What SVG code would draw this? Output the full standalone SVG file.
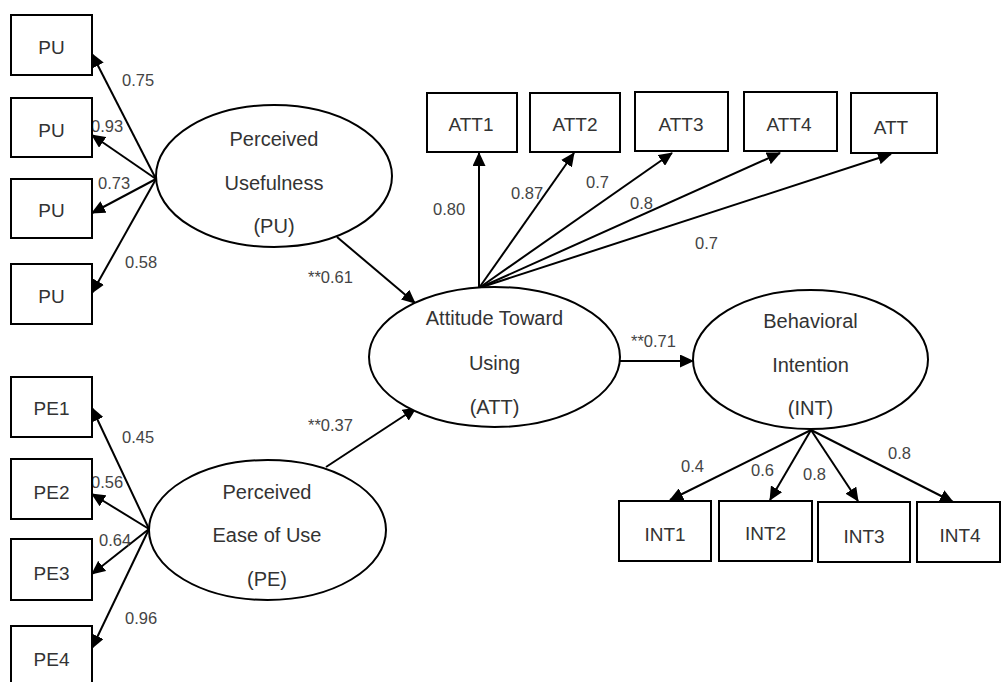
<svg xmlns="http://www.w3.org/2000/svg" width="1002" height="682" viewBox="0 0 1002 682">
<style>
.box{fill:#fff;stroke:#000;stroke-width:2}
.ell{fill:#fff;stroke:#000;stroke-width:2}
.lbl{font-family:"Liberation Sans",Arial,sans-serif;font-size:19px;fill:#333;text-anchor:middle}
.etx{font-family:"Liberation Sans",Arial,sans-serif;font-size:20px;fill:#333;text-anchor:middle}
.num{font-family:"Liberation Sans",Arial,sans-serif;font-size:16.5px;fill:#444}
.con line{stroke:#000;stroke-width:2;marker-end:url(#ah)}
</style>
<defs>
<marker id="ah" viewBox="0 0 14 13" refX="13" refY="6.5" markerWidth="14" markerHeight="13" markerUnits="userSpaceOnUse" orient="auto">
<path d="M0,0 L14,6.5 L0,13 z" fill="#000"/>
</marker>
</defs>
<rect width="1002" height="682" fill="#fff"/>

<g id="connectors" class="con">
<line x1="156" y1="179" x2="92" y2="54"/>
<line x1="156" y1="179" x2="92" y2="135"/>
<line x1="156" y1="179" x2="92" y2="213"/>
<line x1="156" y1="179" x2="92" y2="293"/>
<line x1="149" y1="529" x2="92" y2="408"/>
<line x1="149" y1="529" x2="92" y2="494"/>
<line x1="149" y1="529" x2="92" y2="574"/>
<line x1="149" y1="529" x2="92" y2="648"/>
<line x1="337" y1="237" x2="415" y2="303"/>
<line x1="326" y1="467" x2="416" y2="408"/>
<line x1="479" y1="288" x2="479" y2="153"/>
<line x1="479" y1="288" x2="574" y2="153"/>
<line x1="479" y1="288" x2="672" y2="153"/>
<line x1="479" y1="288" x2="780" y2="153"/>
<line x1="479" y1="288" x2="891" y2="154"/>
<line x1="619" y1="361" x2="693" y2="361"/>
<line x1="811" y1="430" x2="670" y2="500"/>
<line x1="811" y1="430" x2="770" y2="500"/>
<line x1="811" y1="430" x2="858" y2="501"/>
<line x1="811" y1="430" x2="953" y2="502"/>
</g>

<g id="connector-labels">
<text class="num" x="122" y="86">0.75</text>
<text class="num" x="91" y="132">0.93</text>
<text class="num" x="98" y="189">0.73</text>
<text class="num" x="125" y="268">0.58</text>
<text class="num" x="122" y="443">0.45</text>
<text class="num" x="91" y="488">0.56</text>
<text class="num" x="99" y="546">0.64</text>
<text class="num" x="125" y="624">0.96</text>
<text class="num" x="308" y="283">**0.61</text>
<text class="num" x="308" y="431">**0.37</text>
<text class="num" x="433" y="215">0.80</text>
<text class="num" x="511" y="199">0.87</text>
<text class="num" x="586" y="188">0.7</text>
<text class="num" x="630" y="209">0.8</text>
<text class="num" x="695" y="249">0.7</text>
<text class="num" x="631" y="347">**0.71</text>
<text class="num" x="681" y="472">0.4</text>
<text class="num" x="751" y="476">0.6</text>
<text class="num" x="803" y="480">0.8</text>
<text class="num" x="888" y="459">0.8</text>
</g>

<g id="PU">
<ellipse class="ell" cx="274" cy="176" rx="118" ry="71"/>
<text class="etx" x="274" y="146">Perceived</text>
<text class="etx" x="274" y="190">Usefulness</text>
<text class="etx" x="274" y="233">(PU)</text>
</g>
<g id="PE">
<ellipse class="ell" cx="267.5" cy="530" rx="118.5" ry="70"/>
<text class="etx" x="267" y="499">Perceived</text>
<text class="etx" x="267" y="542">Ease of Use</text>
<text class="etx" x="267" y="586">(PE)</text>
</g>
<g id="ATT">
<ellipse class="ell" cx="494.5" cy="357" rx="125.5" ry="70"/>
<text class="etx" x="494.5" y="325">Attitude Toward</text>
<text class="etx" x="494.5" y="370">Using</text>
<text class="etx" x="494.5" y="414">(ATT)</text>
</g>
<g id="INT">
<ellipse class="ell" cx="810.5" cy="359.5" rx="117.5" ry="69.5"/>
<text class="etx" x="810.5" y="328">Behavioral</text>
<text class="etx" x="810.5" y="372">Intention</text>
<text class="etx" x="810.5" y="415">(INT)</text>
</g>

<g id="PU1"><rect class="box" x="11" y="15" width="81" height="60"/><text class="lbl" x="51.5" y="54">PU</text></g>
<g id="PU2"><rect class="box" x="11" y="98" width="81" height="59"/><text class="lbl" x="51.5" y="137">PU</text></g>
<g id="PU3"><rect class="box" x="11" y="179" width="81" height="59"/><text class="lbl" x="51.5" y="217">PU</text></g>
<g id="PU4"><rect class="box" x="11" y="264" width="81" height="60"/><text class="lbl" x="51.5" y="303">PU</text></g>

<g id="PE1"><rect class="box" x="11" y="377" width="81" height="60"/><text class="lbl" x="51.5" y="415">PE1</text></g>
<g id="PE2"><rect class="box" x="11" y="459" width="81" height="60"/><text class="lbl" x="51.5" y="499">PE2</text></g>
<g id="PE3"><rect class="box" x="11" y="539" width="81" height="61"/><text class="lbl" x="51.5" y="580">PE3</text></g>
<g id="PE4"><rect class="box" x="11" y="626" width="81" height="62"/><text class="lbl" x="51.5" y="666">PE4</text></g>

<g id="ATT1"><rect class="box" x="427" y="93" width="90" height="59"/><text class="lbl" x="471" y="131">ATT1</text></g>
<g id="ATT2"><rect class="box" x="530" y="93" width="90" height="59"/><text class="lbl" x="575" y="131">ATT2</text></g>
<g id="ATT3"><rect class="box" x="635" y="92" width="93" height="59"/><text class="lbl" x="681" y="131">ATT3</text></g>
<g id="ATT4"><rect class="box" x="744" y="92" width="93" height="59"/><text class="lbl" x="789" y="131">ATT4</text></g>
<g id="ATT5"><rect class="box" x="851" y="93" width="86" height="60"/><text class="lbl" x="891" y="134">ATT</text></g>

<g id="INT1"><rect class="box" x="619" y="501" width="92" height="60"/><text class="lbl" x="665" y="541">INT1</text></g>
<g id="INT2"><rect class="box" x="719" y="501" width="93" height="60"/><text class="lbl" x="765.5" y="540">INT2</text></g>
<g id="INT3"><rect class="box" x="818" y="502" width="92" height="60"/><text class="lbl" x="864" y="543">INT3</text></g>
<g id="INT4"><rect class="box" x="917" y="502" width="83" height="60"/><text class="lbl" x="960" y="542">INT4</text></g>
</svg>
